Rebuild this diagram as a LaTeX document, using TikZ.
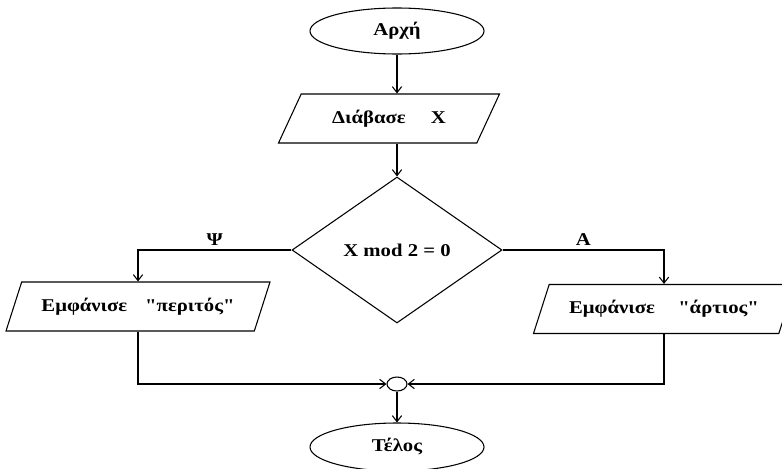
\documentclass[tikz,border=0pt]{standalone}
\usepackage{fontspec}
\setmainfont{Liberation Serif}[FakeStretch=1.15,Ligatures=TeXOff]
\usetikzlibrary{shapes.geometric,arrows.meta}

\begin{document}
\begin{tikzpicture}[x=0.75pt,y=-0.75pt,line width=0.8pt,
    every node/.style={font=\bfseries\fontsize{13.5}{16}\selectfont},
    flowline/.style={draw,-{Straight Barb[length=4.5pt,width=7pt]}},
    term/.style={ellipse,draw,minimum width=130.5pt,minimum height=34.5pt},
    inout/.style={trapezium,draw,trapezium stretches body,
      trapezium left angle=59,trapezium right angle=121,minimum height=36.75pt},
    test/.style={diamond,draw,aspect=1.44,inner sep=0pt,
      minimum width=157.5pt,minimum height=109.5pt},
    joint/.style={ellipse,draw,inner sep=0pt,minimum width=15pt,minimum height=10.5pt}]

        \useasboundingbox (0,0) rectangle (782,468);

        \node[term] (start) at (397,31) {Αρχή};
        \node[inout,minimum width=165.75pt,trapezium left angle=49,
          trapezium right angle=131] (read) at (389,118.5) {Διάβασε\hspace{1.4em}X};
        \node[test] (dec) at (397,250) {X mod 2 = 0};
        \node[inout,minimum width=198pt] (odd) at (138,306.5) {Εμφάνισε\hspace{1em}"περιτός"};
        \node[inout,minimum width=195.75pt] (even) at (664,309) {Εμφάνισε\hspace{1.3em}"άρτιος"};
        \node[joint] (join) at (397,384) {};
        \node[term,minimum height=36pt] (end) at (397,447) {Τέλος};

        \path[flowline] (start) -- (start |- read.north);
        \path[flowline] (start |- read.south) -- (dec);
        \path[flowline] (dec.west) -| node[pos=0.25,above] {Ψ} (odd.north);
        \path[flowline] (dec.east) -| node[pos=0.25,above] {Α} (even.north);
        \path[flowline] (odd.south) |- (join.west);
        \path[flowline] (even.south) |- (join.east);
        \path[flowline] (join) -- (end);

\end{tikzpicture}
\end{document}
